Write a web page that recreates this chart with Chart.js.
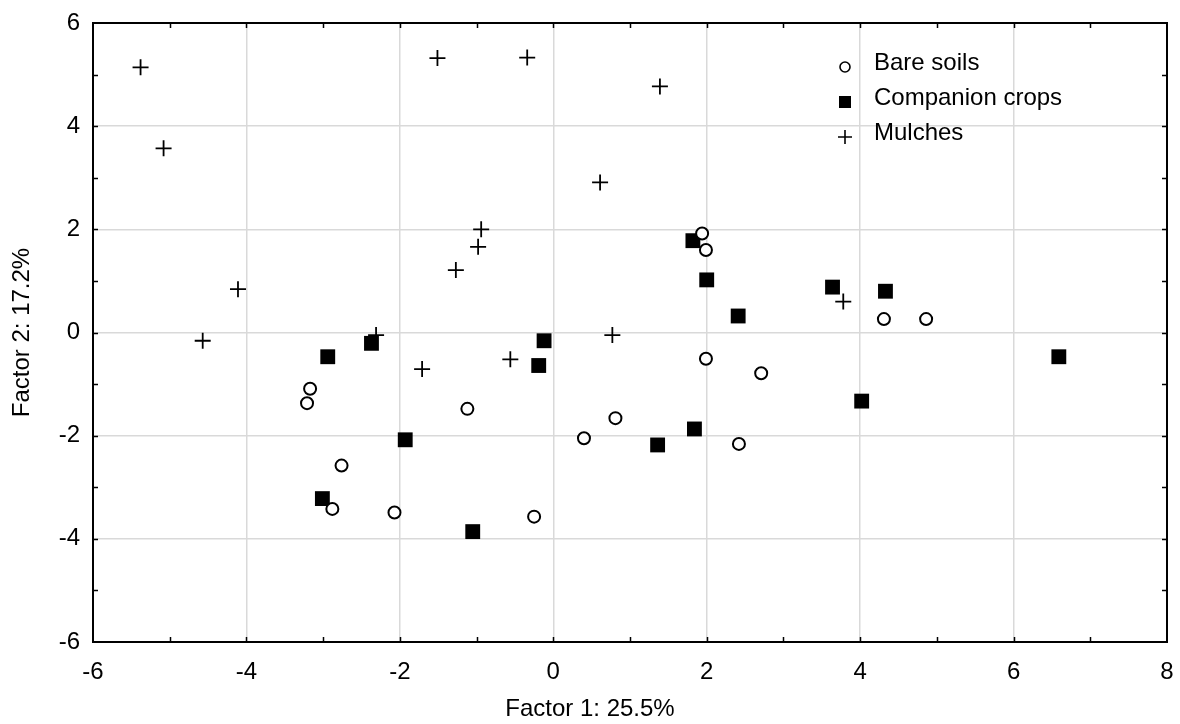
<!DOCTYPE html>
<html>
<head>
<meta charset="utf-8">
<title>Factor scatter</title>
<script src="https://cdn.jsdelivr.net/npm/chart.js@4/dist/chart.umd.min.js"></script>
<style>
    body { margin: 0; background: #fff; }
    #box { width: 1180px; height: 724px; position: relative; }
</style>
</head>
<body>
<div id="box"><canvas id="chartFactors"></canvas></div>
<script>
// values
var bareX = [-3.17, -3.21, -2.76, -2.88, -2.07, -1.12, -0.25, 0.40, 0.81, 2.42, 1.99, 2.71, 1.94, 1.99, 4.31, 4.86];
var bareY = [-1.09, -1.37, -2.58, -3.42, -3.49, -1.48, -3.57, -2.05, -1.66, -2.16, -0.51, -0.79, 1.92, 1.60, 0.26, 0.26];

var compX = [-2.94, -2.37, -3.01, -1.93, -1.05, -0.12, -0.19, 1.36, 1.84, 1.82, 2.00, 2.41, 3.64, 4.33, 4.02, 6.59];
var compY = [-0.47, -0.21, -3.22, -2.08, -3.86, -0.16, -0.64, -2.18, -1.87, 1.78, 1.02, 0.32, 0.88, 0.80, -1.33, -0.47];

var mulchX = [-5.38, -5.08, -4.11, -4.57, -1.51, -0.34, 1.39, 0.61, -0.94, -0.98, -1.27, -2.31, -1.71, -0.56, 0.77, 3.78];
var mulchY = [5.14, 3.57, 0.84, -0.16, 5.32, 5.33, 4.77, 2.91, 2.00, 1.66, 1.21, -0.05, -0.71, -0.52, -0.05, 0.60];

var nomes = ['Bare soils', 'Companion crops', 'Mulches'];
var tituloX = 'Factor 1: 25.5%';
var tituloY = 'Factor 2: 17.2%';
var xMin = -6, xMax = 8, yMin = -6, yMax = 6;

function juntar(xs, ys) {
    return xs.map(function (v, i) { return { x: v, y: ys[i] }; });
}

Chart.defaults.font.family = '"Liberation Sans", Arial, sans-serif';
Chart.defaults.color = '#000';

// box around the plot + small inward ticks on every unit
const moldura = {
    id: 'moldura',
    beforeDatasetsDraw(chart) {
        const { ctx, chartArea: a, scales } = chart;
        const x = scales.x, y = scales.y;
        ctx.save();
        ctx.strokeStyle = '#000';
        ctx.lineWidth = 1.5;
        ctx.beginPath();
        for (let v = xMin + 1; v < xMax; v++) {
            const px = Math.round(x.getPixelForValue(v)) + 0.5;
            ctx.moveTo(px, a.bottom); ctx.lineTo(px, a.bottom - 5);
            ctx.moveTo(px, a.top); ctx.lineTo(px, a.top + 5);
        }
        for (let v = yMin + 1; v < yMax; v++) {
            const py = Math.round(y.getPixelForValue(v)) + 0.5;
            ctx.moveTo(a.left, py); ctx.lineTo(a.left + 5, py);
            ctx.moveTo(a.right, py); ctx.lineTo(a.right - 5, py);
        }
        ctx.stroke();
        ctx.lineWidth = 2;
        ctx.strokeRect(a.left, a.top, a.right - a.left, a.bottom - a.top);
        ctx.restore();
    }
};

// legend drawn inside the plot, top right
const legenda = {
    id: 'legenda',
    afterDraw(chart) {
        const { ctx, chartArea: a } = chart;
        const mx = a.right - 322, tx = a.right - 293;
        const linhas = [a.top + 40, a.top + 75, a.top + 110];
        ctx.save();
        ctx.strokeStyle = '#000';
        ctx.fillStyle = '#000';
        ctx.lineWidth = 1.6;
        // circle
        ctx.beginPath();
        ctx.arc(mx, linhas[0] + 4, 5, 0, Math.PI * 2);
        ctx.stroke();
        // square
        ctx.fillRect(mx - 6, linhas[1] - 2, 12, 12);
        // plus
        ctx.beginPath();
        ctx.moveTo(mx - 7, linhas[2] + 4); ctx.lineTo(mx + 7, linhas[2] + 4);
        ctx.moveTo(mx, linhas[2] - 3); ctx.lineTo(mx, linhas[2] + 11);
        ctx.stroke();
        ctx.font = '24px "Liberation Sans", Arial, sans-serif';
        ctx.textBaseline = 'middle';
        ctx.textAlign = 'left';
        nomes.forEach(function (n, i) { ctx.fillText(n, tx, linhas[i]); });
        ctx.restore();
    }
};

const dataFactors = {
    datasets: [{
        label: nomes[0],
        data: juntar(bareX, bareY),
        pointStyle: 'circle',
        pointRadius: 6,
        pointBorderWidth: 2,
        pointBackgroundColor: '#fff',
        pointBorderColor: '#000',
    }, {
        label: nomes[1],
        data: juntar(compX, compY),
        pointStyle: 'rect',
        pointRadius: 10.5,
        pointBorderWidth: 0,
        pointBackgroundColor: '#000',
        pointBorderColor: '#000',
    }, {
        label: nomes[2],
        data: juntar(mulchX, mulchY),
        pointStyle: 'cross',
        pointRadius: 8,
        pointBorderWidth: 1.8,
        pointBackgroundColor: '#000',
        pointBorderColor: '#000',
    }]
};

const configFactors = {
    type: 'scatter',
    data: dataFactors,
    options: {
        responsive: true,
        maintainAspectRatio: false,
        animation: false,
        layout: { padding: { top: 23, right: 13, left: 13, bottom: 0 } },
        plugins: {
            legend: { display: false },
            tooltip: { enabled: false },
            title: {
                display: true,
                position: 'bottom',
                text: tituloX,
                font: { size: 24, weight: 'normal' },
                padding: { top: 0, bottom: 0 },
                color: '#000'
            }
        },
        scales: {
            x: {
                type: 'linear',
                min: xMin,
                max: xMax,
                ticks: { stepSize: 2, padding: 0, font: { size: 24 }, color: '#000' },
                grid: { color: '#d9d9d9', lineWidth: 1.5, drawTicks: true, tickLength: 16, tickColor: 'rgba(0,0,0,0)' },
                border: { display: false },
                afterFit: function (s) { s.height = 53.2; }
            },
            y: {
                type: 'linear',
                min: yMin,
                max: yMax,
                ticks: { stepSize: 2, padding: 0, font: { size: 24 }, color: '#000' },
                grid: { color: '#d9d9d9', lineWidth: 1.5, drawTicks: true, tickLength: 13, tickColor: 'rgba(0,0,0,0)' },
                border: { display: false },
                title: {
                    display: true,
                    text: tituloY,
                    font: { size: 24 },
                    padding: { top: -5, bottom: 0 },
                    color: '#000'
                },
                afterFit: function (s) { s.width = 80; }
            }
        }
    },
    plugins: [moldura, legenda]
};

const chartFactors = new Chart(
    document.getElementById('chartFactors'),
    configFactors
);
</script>
</body>
</html>
